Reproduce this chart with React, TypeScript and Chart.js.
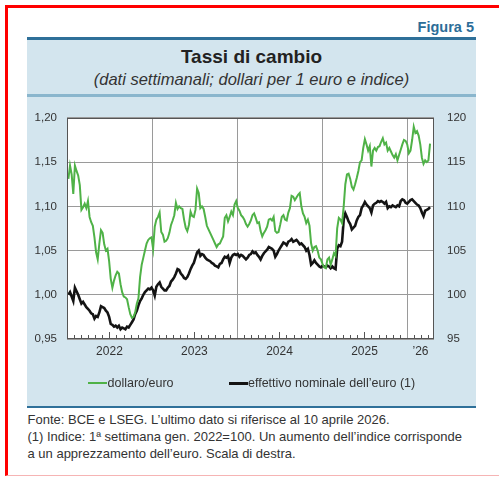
import React, { useEffect, useRef } from 'react';
import { Chart, registerables } from 'chart.js';

Chart.register(...registerables);

const FONT = '"Liberation Sans", Arial, Helvetica, sans-serif';

// weekly data: first observation in the week ending 7 January 2022, last on 10 April 2026
const firstWeek = '2022-01-07';
const axisStart = '2022-01-01';
const axisEnd = '2026-04-27';
const yearStarts = ['2023-01-01', '2024-01-01', '2025-01-01', '2026-01-01'];
const xTickLabels = ['2022', '2023', '2024', '2025', '\u201926'];
const leftTicks = [0.95, 1.0, 1.05, 1.1, 1.15, 1.2];
const rightTicks = [95, 100, 105, 110, 115, 120];

// dollars per 1 euro (left scale)
const usdEur = [
  // 2022
  1.131, 1.146, 1.136, 1.114, 1.146, 1.140, 1.135, 1.124, 1.096, 1.099, 1.103, 1.098, 1.106,
  1.088, 1.082, 1.078, 1.065, 1.048, 1.040, 1.058, 1.073, 1.070, 1.057, 1.050, 1.052, 1.038,
  1.018, 1.008, 1.016, 1.022, 1.026, 1.024, 1.012, 1.003, 0.998, 0.997, 0.995, 0.986, 0.978,
  0.974, 0.975, 0.980, 0.990, 0.996, 1.020, 1.034, 1.042, 1.050, 1.058, 1.062, 1.064, 1.065,
  // 2023
  1.052, 1.077, 1.085, 1.088, 1.093, 1.071, 1.068, 1.060, 1.061, 1.064, 1.070, 1.079, 1.084,
  1.090, 1.104, 1.097, 1.100, 1.098, 1.097, 1.085, 1.076, 1.072, 1.079, 1.094, 1.089, 1.088,
  1.096, 1.120, 1.115, 1.098, 1.100, 1.097, 1.088, 1.078, 1.074, 1.070, 1.066, 1.062, 1.058,
  1.054, 1.057, 1.058, 1.062, 1.066, 1.087, 1.090, 1.083, 1.088, 1.094, 1.090, 1.102, 1.106,
  // 2024
  1.098, 1.095, 1.090, 1.088, 1.085, 1.080, 1.077, 1.080, 1.084, 1.090, 1.092, 1.087, 1.081,
  1.082, 1.072, 1.066, 1.070, 1.073, 1.077, 1.085, 1.086, 1.084, 1.088, 1.072, 1.070, 1.071,
  1.079, 1.088, 1.090, 1.085, 1.084, 1.093, 1.098, 1.112, 1.111, 1.107, 1.110, 1.113, 1.115,
  1.100, 1.092, 1.088, 1.081, 1.085, 1.078, 1.058, 1.050, 1.054, 1.055, 1.050, 1.042, 1.040,
  // 2025
  1.035, 1.031, 1.030, 1.040, 1.042, 1.034, 1.040, 1.047, 1.044, 1.075, 1.087, 1.085, 1.081,
  1.100, 1.125, 1.136, 1.137, 1.131, 1.122, 1.119, 1.125, 1.132, 1.140, 1.150, 1.152, 1.166,
  1.176, 1.170, 1.163, 1.168, 1.145, 1.163, 1.166, 1.163, 1.167, 1.168, 1.173, 1.177, 1.170,
  1.172, 1.163, 1.166, 1.162, 1.158, 1.155, 1.159, 1.152, 1.158, 1.164, 1.170, 1.175, 1.174,
  // 2026
  1.170, 1.160, 1.163, 1.175, 1.190, 1.183, 1.185, 1.180, 1.170, 1.155, 1.148, 1.152, 1.150,
  1.152, 1.171,
];

// nominal effective exchange rate of the euro, index 1st week Jan 2022 = 100 (right scale)
const neer = [
  // 2022
  100.0, 100.3, 99.8, 99.3, 100.8, 100.4, 100.0, 99.5, 99.0, 99.2, 98.9, 98.6, 98.4,
  98.2, 97.9, 97.8, 97.3, 97.6, 97.5, 98.0, 98.7, 98.6, 98.5, 98.2, 98.0, 97.5,
  96.7, 96.6, 96.4, 96.5, 96.3, 96.5, 96.1, 96.3, 96.2, 96.1, 96.4, 96.3, 96.6,
  96.9, 97.2, 97.8, 98.2, 98.8, 99.3, 99.6, 100.0, 100.3, 100.5, 100.7, 100.6, 100.8,
  // 2023
  100.5, 99.9, 100.9, 101.2, 101.4, 100.9, 100.7, 100.5, 100.5, 100.8, 101.0, 101.5, 101.7,
  102.0, 102.4, 102.9, 102.8, 102.4, 102.2, 101.9, 101.8, 102.0, 102.4, 102.9, 103.3, 103.6,
  104.2, 104.8, 105.0, 104.4, 104.6, 104.5, 104.2, 104.0, 103.9, 103.8, 103.6, 103.5, 103.3,
  103.2, 103.1, 103.5, 103.6, 104.0, 104.3, 104.2, 104.4, 103.6, 104.2, 104.5, 104.6, 104.5,
  // 2024
  104.6, 104.3, 104.5, 104.4, 104.2, 104.0, 104.2, 104.5, 104.6, 104.9, 104.7, 104.8, 104.5,
  104.3, 104.0, 104.4, 104.7, 104.9, 105.1, 105.4, 105.3, 105.2, 105.0, 104.3, 104.6, 105.0,
  105.3, 105.6, 105.9, 105.8, 105.6, 106.0, 106.1, 106.3, 106.0, 106.1, 106.2, 106.0, 105.7,
  105.8, 105.6, 105.4, 105.0, 105.2, 104.5, 103.4, 103.6, 103.9, 103.6, 103.4, 103.2, 103.1,
  // 2025
  103.3, 103.2, 103.1, 103.3, 103.2, 103.0, 103.2, 103.0, 102.9, 105.2, 105.6, 105.5, 106.0,
  108.5, 109.2, 108.8, 108.3, 108.0, 107.4, 107.6, 107.8, 108.4, 108.8, 109.0, 109.8, 110.1,
  110.5, 110.2, 110.0, 109.8, 109.3, 110.1, 110.3, 110.4, 110.6, 110.5, 110.6, 110.5, 110.3,
  110.5, 109.8, 110.0, 109.9, 110.1, 110.0, 109.9, 110.1, 110.0, 110.6, 110.8, 110.7, 110.4,
  // 2026
  110.3, 110.5, 110.7, 110.8, 110.6, 110.4, 110.2, 110.1, 109.8, 109.3, 108.9, 109.5, 109.6,
  109.7, 109.9,
];

const seriesLabels = ['dollaro/euro', 'effettivo nominale dell\u2019euro (1)'];
const seriesColors = ['#4fb247', '#141414'];

const DAY = 86400000;
const dayNum = (s: string) => (Date.parse(s) - Date.parse(axisStart)) / DAY;
const weekDay = (i: number) => dayNum(firstWeek) + 7 * i;

const boundaries = [axisStart, ...yearStarts, axisEnd].map(dayNum);
const labelPositions = boundaries.slice(0, -1).map((b, i) => (b + boundaries[i + 1]) / 2);

const framePlugin = {
  id: 'bdiFrame',
  beforeDraw(chart: any) {
    const { ctx, chartArea: a } = chart;
    ctx.save();
    ctx.fillStyle = '#ffffff';
    ctx.fillRect(a.left, a.top, a.right - a.left, a.bottom - a.top);
    ctx.restore();
  },
  beforeDatasetsDraw(chart: any) {
    const { ctx, chartArea: a } = chart;
    const x = chart.scales.x;
    ctx.save();
    ctx.lineWidth = 1;
    ctx.strokeStyle = '#9a9a9a';
    yearStarts.forEach((s) => {
      const px = Math.round(x.getPixelForValue(dayNum(s))) + 0.5;
      ctx.beginPath();
      ctx.moveTo(px, a.top);
      ctx.lineTo(px, a.bottom);
      ctx.stroke();
    });
    ctx.strokeStyle = '#555555';
    const min = x.min;
    const max = x.max;
    for (let y = 2022; y <= 2026; y++) {
      for (let m = 1; m < 12; m++) {
        const d = (Date.UTC(y, m, 1) - Date.parse(axisStart)) / DAY;
        if (d <= min || d >= max) continue;
        const px = Math.round(x.getPixelForValue(d)) + 0.5;
        const len = m === 6 ? 7 : 4;
        ctx.beginPath();
        ctx.moveTo(px, a.bottom);
        ctx.lineTo(px, a.bottom - len);
        ctx.stroke();
      }
    }
    ctx.restore();
  },
  afterDatasetsDraw(chart: any) {
    const { ctx, chartArea: a } = chart;
    ctx.save();
    ctx.strokeStyle = '#555555';
    ctx.lineWidth = 1;
    ctx.strokeRect(Math.round(a.left) + 0.5, Math.round(a.top) + 0.5, Math.round(a.right - a.left) - 1, Math.round(a.bottom - a.top) - 1);
    ctx.restore();
  },
};

function ExchangeChart() {
  const ref = useRef<HTMLCanvasElement | null>(null);
  useEffect(() => {
    if (!ref.current) return;
    const chart = new Chart(ref.current, {
      type: 'line',
      data: {
        datasets: [
          {
            label: seriesLabels[0],
            data: usdEur.map((v, i) => ({ x: weekDay(i), y: v })),
            borderColor: seriesColors[0],
            borderWidth: 2,
            pointRadius: 0,
            tension: 0,
            yAxisID: 'y',
          },
          {
            label: seriesLabels[1],
            data: neer.map((v, i) => ({ x: weekDay(i), y: v })),
            borderColor: seriesColors[1],
            borderWidth: 2.6,
            pointRadius: 0,
            tension: 0,
            yAxisID: 'y1',
          },
        ],
      },
      options: {
        animation: false,
        responsive: false,
        maintainAspectRatio: false,
        layout: { padding: { top: 18, left: 0, right: 0, bottom: 0 } },
        plugins: { legend: { display: false }, tooltip: { enabled: false }, title: { display: false } },
        scales: {
          x: {
            type: 'linear',
            min: dayNum(axisStart),
            max: dayNum(axisEnd),
            grid: { display: false, drawTicks: false },
            border: { display: false },
            afterBuildTicks: (scale: any) => {
              scale.ticks = labelPositions.map((v) => ({ value: v }));
            },
            afterFit: (scale: any) => {
              scale.height = 65;
            },
            ticks: {
              autoSkip: false,
              maxRotation: 0,
              padding: 5,
              color: '#333333',
              font: { family: FONT, size: 12 },
              callback: (_v: any, i: number) => xTickLabels[i],
            },
          },
          y: {
            type: 'linear',
            position: 'left',
            min: leftTicks[0],
            max: leftTicks[leftTicks.length - 1],
            grid: { color: '#9a9a9a', lineWidth: 1, drawTicks: false },
            border: { display: false },
            afterBuildTicks: (scale: any) => {
              scale.ticks = leftTicks.map((v) => ({ value: v }));
            },
            afterFit: (scale: any) => {
              scale.width = 40;
            },
            ticks: {
              padding: 10,
              color: '#333333',
              font: { family: FONT, size: 11.5 },
              callback: (v: any) => Number(v).toFixed(2).replace('.', ','),
            },
          },
          y1: {
            type: 'linear',
            position: 'right',
            min: rightTicks[0],
            max: rightTicks[rightTicks.length - 1],
            grid: { display: false, drawTicks: false },
            border: { display: false },
            afterBuildTicks: (scale: any) => {
              scale.ticks = rightTicks.map((v) => ({ value: v }));
            },
            afterFit: (scale: any) => {
              scale.width = 42;
            },
            ticks: {
              padding: 13,
              color: '#333333',
              font: { family: FONT, size: 11.5 },
              callback: (v: any) => String(v),
            },
          },
        },
      },
      plugins: [framePlugin],
    } as any);
    return () => chart.destroy();
  }, []);
  return <canvas ref={ref} width={449} height={306} style={{ position: 'absolute', left: 27, top: 98, width: 449, height: 306 }} />;
}

const abs = (o: React.CSSProperties): React.CSSProperties => ({ position: 'absolute', ...o });

export default function App() {
  return (
    <div style={abs({ left: 0, top: 0, width: 499, height: 477, background: '#ffffff', overflow: 'hidden', fontFamily: FONT })}>
      <div
        style={abs({
          left: 5,
          top: 5,
          width: 520,
          height: 471,
          boxSizing: 'border-box',
          borderTop: '3px solid #ff0000',
          borderLeft: '3px solid #ff0000',
          borderBottom: '1px solid #f6b4b4',
        })}
      />
      <div style={abs({ left: 300, width: 174, top: 19, textAlign: 'right', fontWeight: 'bold', fontSize: 14.5, lineHeight: '16px', color: '#2c6d98' })}>
        Figura 5
      </div>
      <div style={abs({ left: 27, top: 37, width: 449, height: 371, background: '#d3e5ee' })} />
      <div style={abs({ left: 27, top: 37, width: 449, height: 3, background: '#2f7099' })} />
      <div style={abs({ left: 27, top: 94, width: 449, height: 3, background: '#8ab6cd' })} />
      <div style={abs({ left: 27, top: 406, width: 449, height: 2, background: '#2f7099' })} />
      <div style={abs({ left: 27, width: 449, top: 46, textAlign: 'center', fontWeight: 'bold', fontSize: 19, lineHeight: '22px', color: '#222222' })}>
        Tassi di cambio
      </div>
      <div style={abs({ left: 27, width: 449, top: 70, textAlign: 'center', fontStyle: 'italic', fontSize: 16.5, lineHeight: '18px', color: '#333333' })}>
        (dati settimanali; dollari per 1 euro e indice)
      </div>
      <ExchangeChart />
      <div style={abs({ left: 88, top: 382, width: 19, height: 2, background: seriesColors[0] })} />
      <div style={abs({ left: 107.5, top: 375, fontSize: 12.5, lineHeight: '16px', color: '#333333', whiteSpace: 'nowrap' })}>{seriesLabels[0]}</div>
      <div style={abs({ left: 229, top: 381.5, width: 19, height: 3, background: seriesColors[1] })} />
      <div style={abs({ left: 248, top: 375, fontSize: 12.5, lineHeight: '16px', color: '#333333', whiteSpace: 'nowrap' })}>{seriesLabels[1]}</div>
      <div style={abs({ left: 27.5, top: 412, fontSize: 13, lineHeight: '16.8px', color: '#333333', whiteSpace: 'nowrap' })}>
        <div>Fonte: BCE e LSEG. L’ultimo dato si riferisce al 10 aprile 2026.</div>
        <div>(1) Indice: 1ª settimana gen. 2022=100. Un aumento dell’indice corrisponde</div>
        <div>a un apprezzamento dell’euro. Scala di destra.</div>
      </div>
    </div>
  );
}
